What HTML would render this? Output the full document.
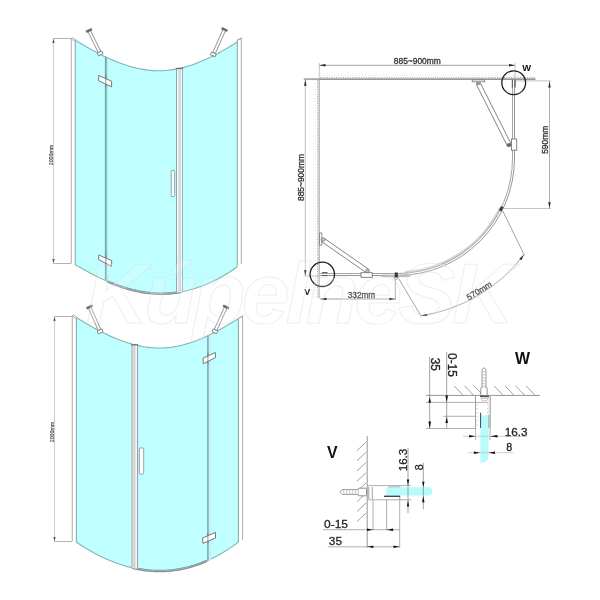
<!DOCTYPE html>
<html><head><meta charset="utf-8"><style>
html,body{margin:0;padding:0;background:#fff;width:600px;height:600px;overflow:hidden;font-family:"Liberation Sans",sans-serif;}
</style></head><body>
<svg width="600" height="600" viewBox="0 0 600 600" style="position:absolute;left:0;top:0;will-change:transform">
<rect width="600" height="600" fill="#fff"/>
<path d="M75.50,40.32 L77.00,41.24 L78.50,42.15 L80.00,43.05 L81.50,43.95 L83.00,44.83 L84.50,45.71 L86.00,46.58 L87.50,47.43 L89.00,48.28 L90.50,49.12 L92.00,49.95 L93.50,50.76 L95.00,51.57 L96.50,52.36 L98.00,53.15 L99.50,53.91 L101.00,54.67 L102.50,55.42 L104.00,56.15 L105.50,56.86 L107.00,57.57 L108.50,58.26 L110.00,58.93 L111.50,59.59 L113.00,60.24 L114.50,60.86 L116.00,61.48 L117.50,62.07 L119.00,62.65 L120.50,63.22 L122.00,63.76 L123.50,64.29 L125.00,64.80 L126.50,65.29 L128.00,65.76 L129.50,66.22 L131.00,66.65 L132.50,67.06 L134.00,67.46 L135.50,67.83 L137.00,68.19 L138.50,68.52 L140.00,68.83 L141.50,69.12 L143.00,69.39 L144.50,69.63 L146.00,69.85 L147.50,70.05 L149.00,70.23 L150.50,70.38 L152.00,70.50 L153.50,70.61 L155.00,70.69 L156.50,70.74 L158.00,70.77 L159.50,70.77 L161.00,70.74 L162.50,70.69 L164.00,70.62 L165.50,70.51 L167.00,70.39 L168.50,70.23 L170.00,70.06 L171.50,69.86 L173.00,69.63 L174.50,69.38 L176.00,69.11 L177.50,68.82 L179.00,68.50 L180.50,68.16 L182.00,67.80 L183.50,67.42 L185.00,67.01 L186.50,66.59 L188.00,66.14 L189.50,65.67 L191.00,65.19 L192.50,64.68 L194.00,64.15 L195.50,63.61 L197.00,63.04 L198.50,62.46 L200.00,61.86 L201.50,61.24 L203.00,60.60 L204.50,59.95 L206.00,59.28 L207.50,58.59 L209.00,57.88 L210.50,57.16 L212.00,56.43 L213.50,55.67 L215.00,54.91 L216.50,54.13 L218.00,53.33 L219.50,52.52 L221.00,51.69 L222.50,50.86 L224.00,50.00 L225.50,49.14 L227.00,48.26 L228.50,47.37 L230.00,46.47 L231.50,45.56 L233.00,44.63 L234.50,43.70 L236.00,42.75 L237.50,41.79 L237.50,266.67 L236.00,267.73 L234.50,268.77 L233.00,269.80 L231.50,270.79 L230.00,271.77 L228.50,272.73 L227.00,273.66 L225.50,274.57 L224.00,275.47 L222.50,276.34 L221.00,277.18 L219.50,278.01 L218.00,278.81 L216.50,279.60 L215.00,280.36 L213.50,281.10 L212.00,281.82 L210.50,282.52 L209.00,283.19 L207.50,283.85 L206.00,284.48 L204.50,285.09 L203.00,285.68 L201.50,286.25 L200.00,286.80 L198.50,287.33 L197.00,287.84 L195.50,288.32 L194.00,288.79 L192.50,289.23 L191.00,289.65 L189.50,290.05 L188.00,290.43 L186.50,290.79 L185.00,291.13 L183.50,291.45 L182.00,291.74 L180.50,292.02 L179.00,292.27 L177.50,292.50 L176.00,292.72 L174.50,292.91 L173.00,293.08 L171.50,293.23 L170.00,293.36 L168.50,293.47 L167.00,293.56 L165.50,293.63 L164.00,293.67 L162.50,293.70 L161.00,293.71 L159.50,293.69 L158.00,293.66 L156.50,293.60 L155.00,293.53 L153.50,293.43 L152.00,293.32 L150.50,293.18 L149.00,293.03 L147.50,292.85 L146.00,292.66 L144.50,292.44 L143.00,292.21 L141.50,291.96 L140.00,291.69 L138.50,291.40 L137.00,291.09 L135.50,290.76 L134.00,290.42 L132.50,290.05 L131.00,289.67 L129.50,289.27 L128.00,288.85 L126.50,288.42 L125.00,287.96 L123.50,287.49 L122.00,287.00 L120.50,286.50 L119.00,285.97 L117.50,285.43 L116.00,284.88 L114.50,284.30 L113.00,283.71 L111.50,283.11 L110.00,282.49 L108.50,281.85 L107.00,281.20 L105.50,280.54 L104.00,279.86 L102.50,279.16 L101.00,278.46 L99.50,277.74 L98.00,277.01 L96.50,276.26 L95.00,275.51 L93.50,274.74 L92.00,273.96 L90.50,273.17 L89.00,272.37 L87.50,271.55 L86.00,270.73 L84.50,269.90 L83.00,269.06 L81.50,268.21 L80.00,267.35 L78.50,266.48 L77.00,265.60 L75.50,264.71 Z" fill="#bfffff" stroke="none"/>
<path d="M75.50,40.32 L77.00,41.24 L78.50,42.15 L80.00,43.05 L81.50,43.95 L83.00,44.83 L84.50,45.71 L86.00,46.58 L87.50,47.43 L89.00,48.28 L90.50,49.12 L92.00,49.95 L93.50,50.76 L95.00,51.57 L96.50,52.36 L98.00,53.15 L99.50,53.91 L101.00,54.67 L102.50,55.42 L104.00,56.15 L105.50,56.86 L107.00,57.57 L108.50,58.26 L110.00,58.93 L111.50,59.59 L113.00,60.24 L114.50,60.86 L116.00,61.48 L117.50,62.07 L119.00,62.65 L120.50,63.22 L122.00,63.76 L123.50,64.29 L125.00,64.80 L126.50,65.29 L128.00,65.76 L129.50,66.22 L131.00,66.65 L132.50,67.06 L134.00,67.46 L135.50,67.83 L137.00,68.19 L138.50,68.52 L140.00,68.83 L141.50,69.12 L143.00,69.39 L144.50,69.63 L146.00,69.85 L147.50,70.05 L149.00,70.23 L150.50,70.38 L152.00,70.50 L153.50,70.61 L155.00,70.69 L156.50,70.74 L158.00,70.77 L159.50,70.77 L161.00,70.74 L162.50,70.69 L164.00,70.62 L165.50,70.51 L167.00,70.39 L168.50,70.23 L170.00,70.06 L171.50,69.86 L173.00,69.63 L174.50,69.38 L176.00,69.11 L177.50,68.82 L179.00,68.50 L180.50,68.16 L182.00,67.80 L183.50,67.42 L185.00,67.01 L186.50,66.59 L188.00,66.14 L189.50,65.67 L191.00,65.19 L192.50,64.68 L194.00,64.15 L195.50,63.61 L197.00,63.04 L198.50,62.46 L200.00,61.86 L201.50,61.24 L203.00,60.60 L204.50,59.95 L206.00,59.28 L207.50,58.59 L209.00,57.88 L210.50,57.16 L212.00,56.43 L213.50,55.67 L215.00,54.91 L216.50,54.13 L218.00,53.33 L219.50,52.52 L221.00,51.69 L222.50,50.86 L224.00,50.00 L225.50,49.14 L227.00,48.26 L228.50,47.37 L230.00,46.47 L231.50,45.56 L233.00,44.63 L234.50,43.70 L236.00,42.75 L237.50,41.79" fill="none" stroke="#86b2b2" stroke-width="1.1"/>
<path d="M75.50,264.71 L77.00,265.60 L78.50,266.48 L80.00,267.35 L81.50,268.21 L83.00,269.06 L84.50,269.90 L86.00,270.73 L87.50,271.55 L89.00,272.37 L90.50,273.17 L92.00,273.96 L93.50,274.74 L95.00,275.51 L96.50,276.26 L98.00,277.01 L99.50,277.74 L101.00,278.46 L102.50,279.16 L104.00,279.86 L105.50,280.54 L107.00,281.20 L108.50,281.85 L110.00,282.49 L111.50,283.11 L113.00,283.71 L114.50,284.30 L116.00,284.88 L117.50,285.43 L119.00,285.97 L120.50,286.50 L122.00,287.00 L123.50,287.49 L125.00,287.96 L126.50,288.42 L128.00,288.85 L129.50,289.27 L131.00,289.67 L132.50,290.05 L134.00,290.42 L135.50,290.76 L137.00,291.09 L138.50,291.40 L140.00,291.69 L141.50,291.96 L143.00,292.21 L144.50,292.44 L146.00,292.66 L147.50,292.85 L149.00,293.03 L150.50,293.18 L152.00,293.32 L153.50,293.43 L155.00,293.53 L156.50,293.60 L158.00,293.66 L159.50,293.69 L161.00,293.71 L162.50,293.70 L164.00,293.67 L165.50,293.63 L167.00,293.56 L168.50,293.47 L170.00,293.36 L171.50,293.23 L173.00,293.08 L174.50,292.91 L176.00,292.72 L177.50,292.50 L179.00,292.27 L180.50,292.02 L182.00,291.74 L183.50,291.45 L185.00,291.13 L186.50,290.79 L188.00,290.43 L189.50,290.05 L191.00,289.65 L192.50,289.23 L194.00,288.79 L195.50,288.32 L197.00,287.84 L198.50,287.33 L200.00,286.80 L201.50,286.25 L203.00,285.68 L204.50,285.09 L206.00,284.48 L207.50,283.85 L209.00,283.19 L210.50,282.52 L212.00,281.82 L213.50,281.10 L215.00,280.36 L216.50,279.60 L218.00,278.81 L219.50,278.01 L221.00,277.18 L222.50,276.34 L224.00,275.47 L225.50,274.57 L227.00,273.66 L228.50,272.73 L230.00,271.77 L231.50,270.79 L233.00,269.80 L234.50,268.77 L236.00,267.73 L237.50,266.67" fill="none" stroke="#86b2b2" stroke-width="1.1"/>
<path d="M107.00,281.20 L108.50,281.85 L110.00,282.49 L111.50,283.11 L113.00,283.71 L114.50,284.30 L116.00,284.88 L117.50,285.43 L119.00,285.97 L120.50,286.50 L122.00,287.00 L123.50,287.49 L125.00,287.96 L126.50,288.42 L128.00,288.85 L129.50,289.27 L131.00,289.67 L132.50,290.05 L134.00,290.42 L135.50,290.76 L137.00,291.09 L138.50,291.40 L140.00,291.69 L141.50,291.96 L143.00,292.21 L144.50,292.44 L146.00,292.66 L147.50,292.85 L149.00,293.03 L150.50,293.18 L152.00,293.32 L153.50,293.43 L155.00,293.53 L156.50,293.60 L158.00,293.66 L159.50,293.69 L161.00,293.71 L162.50,293.70 L164.00,293.67 L165.50,293.63 L167.00,293.56 L168.50,293.47 L170.00,293.36 L171.50,293.23 L173.00,293.08 L174.50,292.91 L176.00,292.72 L177.50,292.50 L179.00,292.27 L180.50,292.02 L182.00,291.74" fill="none" stroke="#7d8a90" stroke-width="2.4"/>
<path d="M107.00,281.00 L108.50,281.65 L110.00,282.29 L111.50,282.91 L113.00,283.51 L114.50,284.10 L116.00,284.68 L117.50,285.23 L119.00,285.77 L120.50,286.30 L122.00,286.80 L123.50,287.29 L125.00,287.76 L126.50,288.22 L128.00,288.65 L129.50,289.07 L131.00,289.47 L132.50,289.85 L134.00,290.22 L135.50,290.56 L137.00,290.89 L138.50,291.20 L140.00,291.49 L141.50,291.76 L143.00,292.01 L144.50,292.24 L146.00,292.46 L147.50,292.65 L149.00,292.83 L150.50,292.98 L152.00,293.12 L153.50,293.23 L155.00,293.33 L156.50,293.40 L158.00,293.46 L159.50,293.49 L161.00,293.51 L162.50,293.50 L164.00,293.47 L165.50,293.43 L167.00,293.36 L168.50,293.27 L170.00,293.16 L171.50,293.03 L173.00,292.88 L174.50,292.71 L176.00,292.52 L177.50,292.30 L179.00,292.07 L180.50,291.82 L182.00,291.54" fill="none" stroke="#b9c4c8" stroke-width="0.7"/>
<path d="M71.3,38.8 L75.3,40.3 L75.3,265.3 L71.3,263.2 Z" fill="#fff" stroke="none"/>
<path d="M71.0,38.8 L72.5,37.8 L76.1,39.8 L74.7,40.9 Z" fill="#fff" stroke="#999" stroke-width="0.8"/>
<line x1="71.3" y1="38.8" x2="71.3" y2="263.2" stroke="#b6b3b0" stroke-width="1.1"/>
<line x1="75.3" y1="40.3" x2="75.3" y2="265.3" stroke="#8fb3b3" stroke-width="1.2"/>
<path d="M237.3,40.3 L241.3,38.5 L241.3,264 L237.3,266 Z" fill="#fff" stroke="none"/>
<path d="M237.0,40.3 L238.5,39.3 L242.10000000000002,38.0 L240.70000000000002,39.1 Z" fill="#fff" stroke="#999" stroke-width="0.8"/>
<line x1="241.3" y1="38.5" x2="241.3" y2="264" stroke="#b6b3b0" stroke-width="1.1"/>
<line x1="237.3" y1="40.3" x2="237.3" y2="266" stroke="#8fb3b3" stroke-width="1.2"/>
<rect x="176.1" y="68.39" width="6.800000000000011" height="223.80" fill="#d9d8e0"/>
<rect x="176.9" y="68.39" width="1.4" height="223.80" fill="#eef8f4"/>
<rect x="181.0" y="68.39" width="1.2" height="223.80" fill="#f0f8ff"/>
<line x1="176.5" y1="68.39" x2="176.5" y2="292.19" stroke="#88aaa8" stroke-width="1"/>
<line x1="182.5" y1="68.39" x2="182.5" y2="292.19" stroke="#92b4b4" stroke-width="1"/>
<rect x="175.79999999999998" y="67.79" width="7.400000000000011" height="1.3" fill="#707070"/>
<line x1="105.8" y1="57.01" x2="105.8" y2="280.67" stroke="#70a2a2" stroke-width="1.8"/>
<line x1="107.1" y1="57.01" x2="107.1" y2="280.67" stroke="#a8d4d4" stroke-width="0.8"/>
<rect x="171.2" y="170.5" width="3.5" height="26.0" rx="0.8" fill="#fff" stroke="#8a9a9a" stroke-width="0.9"/>
<path d="M98.8,75.5 L111.7,81.3 L111.5,86.8 L98.6,80.8 Z" fill="#fff" stroke="#6a6a6a" stroke-width="0.9"/>
<line x1="105.8" y1="75.5" x2="105.8" y2="86.8" stroke="#777" stroke-width="0.8"/>
<path d="M98.8,255 L111.7,260.6 L111.5,266.3 L98.6,259.6 Z" fill="#fff" stroke="#6a6a6a" stroke-width="0.9"/>
<line x1="105.8" y1="255" x2="105.8" y2="266.3" stroke="#777" stroke-width="0.8"/>
<path d="M87.74,31.11 L98.24,52.61 L100.76,51.39 L90.26,29.89 Z" fill="#fff" stroke="#7a7a7a" stroke-width="0.8"/>
<line x1="86.12" y1="31.90" x2="91.88" y2="29.10" stroke="#6a6a6a" stroke-width="2.4"/>
<path d="M97.20,53.12 L98.52,55.82 L103.12,53.57 L101.80,50.88 Z" fill="#fff" stroke="#6a6a6a" stroke-width="0.8"/>
<path d="M223.22,28.93 L212.72,52.43 L215.28,53.57 L225.78,30.07 Z" fill="#fff" stroke="#7a7a7a" stroke-width="0.8"/>
<line x1="221.58" y1="28.19" x2="227.42" y2="30.81" stroke="#6a6a6a" stroke-width="2.4"/>
<path d="M211.66,51.96 L210.44,54.69 L215.11,56.78 L216.34,54.04 Z" fill="#fff" stroke="#6a6a6a" stroke-width="0.8"/>
<line x1="53.5" y1="38.5" x2="53.5" y2="263.5" stroke="#d2d2d2" stroke-width="1.2" />
<line x1="53.5" y1="38.5" x2="71.3" y2="38.5" stroke="#b4b4b4" stroke-width="1" />
<line x1="53.5" y1="263.5" x2="71.3" y2="263.5" stroke="#b4b4b4" stroke-width="1" />
<path d="M53.50,38.50 L54.60,43.00 L52.40,43.00 Z" fill="#555"/>
<path d="M53.50,263.50 L52.40,259.00 L54.60,259.00 Z" fill="#555"/>
<text x="0" y="0" transform="translate(53.1,155) rotate(-90)" font-size="5" text-anchor="middle" fill="#4a4a4a" stroke="#4a4a4a" stroke-width="0.15" textLength="20.5" lengthAdjust="spacingAndGlyphs" font-family="Liberation Sans, sans-serif">2000mm</text>
<path d="M76.50,317.64 L78.00,318.57 L79.50,319.49 L81.00,320.41 L82.50,321.32 L84.00,322.21 L85.50,323.10 L87.00,323.98 L88.50,324.84 L90.00,325.70 L91.50,326.55 L93.00,327.38 L94.50,328.20 L96.00,329.01 L97.50,329.81 L99.00,330.59 L100.50,331.37 L102.00,332.13 L103.50,332.87 L105.00,333.60 L106.50,334.32 L108.00,335.03 L109.50,335.71 L111.00,336.39 L112.50,337.05 L114.00,337.69 L115.50,338.31 L117.00,338.92 L118.50,339.52 L120.00,340.09 L121.50,340.65 L123.00,341.19 L124.50,341.72 L126.00,342.22 L127.50,342.71 L129.00,343.17 L130.50,343.62 L132.00,344.05 L133.50,344.46 L135.00,344.85 L136.50,345.21 L138.00,345.56 L139.50,345.89 L141.00,346.19 L142.50,346.47 L144.00,346.74 L145.50,346.97 L147.00,347.19 L148.50,347.38 L150.00,347.55 L151.50,347.70 L153.00,347.82 L154.50,347.91 L156.00,347.99 L157.50,348.03 L159.00,348.06 L160.50,348.05 L162.00,348.02 L163.50,347.97 L165.00,347.88 L166.50,347.78 L168.00,347.64 L169.50,347.48 L171.00,347.29 L172.50,347.08 L174.00,346.84 L175.50,346.58 L177.00,346.29 L178.50,345.98 L180.00,345.65 L181.50,345.30 L183.00,344.92 L184.50,344.52 L186.00,344.09 L187.50,343.65 L189.00,343.18 L190.50,342.70 L192.00,342.19 L193.50,341.67 L195.00,341.12 L196.50,340.56 L198.00,339.97 L199.50,339.37 L201.00,338.75 L202.50,338.11 L204.00,337.46 L205.50,336.79 L207.00,336.10 L208.50,335.40 L210.00,334.68 L211.50,333.95 L213.00,333.20 L214.50,332.43 L216.00,331.66 L217.50,330.87 L219.00,330.06 L220.50,329.25 L222.00,328.42 L223.50,327.57 L225.00,326.72 L226.50,325.86 L228.00,324.98 L229.50,324.09 L231.00,323.20 L232.50,322.29 L234.00,321.38 L235.50,320.45 L237.00,319.52 L238.00,318.89 L238.50,541.97 L237.00,543.10 L235.50,544.20 L234.00,545.28 L232.50,546.33 L231.00,547.36 L229.50,548.37 L228.00,549.36 L226.50,550.32 L225.00,551.26 L223.50,552.18 L222.00,553.07 L220.50,553.95 L219.00,554.80 L217.50,555.62 L216.00,556.43 L214.50,557.21 L213.00,557.97 L211.50,558.71 L210.00,559.42 L208.50,560.12 L207.00,560.79 L205.50,561.44 L204.00,562.07 L202.50,562.68 L201.00,563.26 L199.50,563.82 L198.00,564.36 L196.50,564.88 L195.00,565.38 L193.50,565.86 L192.00,566.31 L190.50,566.75 L189.00,567.16 L187.50,567.55 L186.00,567.92 L184.50,568.27 L183.00,568.60 L181.50,568.91 L180.00,569.20 L178.50,569.46 L177.00,569.71 L175.50,569.93 L174.00,570.14 L172.50,570.32 L171.00,570.48 L169.50,570.63 L168.00,570.75 L166.50,570.85 L165.00,570.93 L163.50,571.00 L162.00,571.04 L160.50,571.06 L159.00,571.06 L157.50,571.04 L156.00,571.01 L154.50,570.95 L153.00,570.87 L151.50,570.77 L150.00,570.66 L148.50,570.52 L147.00,570.37 L145.50,570.19 L144.00,570.00 L142.50,569.78 L141.00,569.55 L139.50,569.30 L138.00,569.03 L136.50,568.74 L135.00,568.43 L133.50,568.10 L132.00,567.76 L130.50,567.39 L129.00,567.01 L127.50,566.61 L126.00,566.19 L124.50,565.75 L123.00,565.29 L121.50,564.81 L120.00,564.32 L118.50,563.81 L117.00,563.28 L115.50,562.73 L114.00,562.16 L112.50,561.58 L111.00,560.98 L109.50,560.36 L108.00,559.72 L106.50,559.06 L105.00,558.39 L103.50,557.70 L102.00,556.99 L100.50,556.26 L99.00,555.52 L97.50,554.76 L96.00,553.98 L94.50,553.19 L93.00,552.37 L91.50,551.55 L90.00,550.70 L88.50,549.84 L87.00,548.96 L85.50,548.06 L84.00,547.15 L82.50,546.22 L81.00,545.27 L79.50,544.31 L78.00,543.33 L76.50,542.33 Z" fill="#bfffff" stroke="none"/>
<path d="M76.50,317.64 L78.00,318.57 L79.50,319.49 L81.00,320.41 L82.50,321.32 L84.00,322.21 L85.50,323.10 L87.00,323.98 L88.50,324.84 L90.00,325.70 L91.50,326.55 L93.00,327.38 L94.50,328.20 L96.00,329.01 L97.50,329.81 L99.00,330.59 L100.50,331.37 L102.00,332.13 L103.50,332.87 L105.00,333.60 L106.50,334.32 L108.00,335.03 L109.50,335.71 L111.00,336.39 L112.50,337.05 L114.00,337.69 L115.50,338.31 L117.00,338.92 L118.50,339.52 L120.00,340.09 L121.50,340.65 L123.00,341.19 L124.50,341.72 L126.00,342.22 L127.50,342.71 L129.00,343.17 L130.50,343.62 L132.00,344.05 L133.50,344.46 L135.00,344.85 L136.50,345.21 L138.00,345.56 L139.50,345.89 L141.00,346.19 L142.50,346.47 L144.00,346.74 L145.50,346.97 L147.00,347.19 L148.50,347.38 L150.00,347.55 L151.50,347.70 L153.00,347.82 L154.50,347.91 L156.00,347.99 L157.50,348.03 L159.00,348.06 L160.50,348.05 L162.00,348.02 L163.50,347.97 L165.00,347.88 L166.50,347.78 L168.00,347.64 L169.50,347.48 L171.00,347.29 L172.50,347.08 L174.00,346.84 L175.50,346.58 L177.00,346.29 L178.50,345.98 L180.00,345.65 L181.50,345.30 L183.00,344.92 L184.50,344.52 L186.00,344.09 L187.50,343.65 L189.00,343.18 L190.50,342.70 L192.00,342.19 L193.50,341.67 L195.00,341.12 L196.50,340.56 L198.00,339.97 L199.50,339.37 L201.00,338.75 L202.50,338.11 L204.00,337.46 L205.50,336.79 L207.00,336.10 L208.50,335.40 L210.00,334.68 L211.50,333.95 L213.00,333.20 L214.50,332.43 L216.00,331.66 L217.50,330.87 L219.00,330.06 L220.50,329.25 L222.00,328.42 L223.50,327.57 L225.00,326.72 L226.50,325.86 L228.00,324.98 L229.50,324.09 L231.00,323.20 L232.50,322.29 L234.00,321.38 L235.50,320.45 L237.00,319.52 L238.00,318.89" fill="none" stroke="#86b2b2" stroke-width="1.1"/>
<path d="M76.50,542.33 L78.00,543.33 L79.50,544.31 L81.00,545.27 L82.50,546.22 L84.00,547.15 L85.50,548.06 L87.00,548.96 L88.50,549.84 L90.00,550.70 L91.50,551.55 L93.00,552.37 L94.50,553.19 L96.00,553.98 L97.50,554.76 L99.00,555.52 L100.50,556.26 L102.00,556.99 L103.50,557.70 L105.00,558.39 L106.50,559.06 L108.00,559.72 L109.50,560.36 L111.00,560.98 L112.50,561.58 L114.00,562.16 L115.50,562.73 L117.00,563.28 L118.50,563.81 L120.00,564.32 L121.50,564.81 L123.00,565.29 L124.50,565.75 L126.00,566.19 L127.50,566.61 L129.00,567.01 L130.50,567.39 L132.00,567.76 L133.50,568.10 L135.00,568.43 L136.50,568.74 L138.00,569.03 L139.50,569.30 L141.00,569.55 L142.50,569.78 L144.00,570.00 L145.50,570.19 L147.00,570.37 L148.50,570.52 L150.00,570.66 L151.50,570.77 L153.00,570.87 L154.50,570.95 L156.00,571.01 L157.50,571.04 L159.00,571.06 L160.50,571.06 L162.00,571.04 L163.50,571.00 L165.00,570.93 L166.50,570.85 L168.00,570.75 L169.50,570.63 L171.00,570.48 L172.50,570.32 L174.00,570.14 L175.50,569.93 L177.00,569.71 L178.50,569.46 L180.00,569.20 L181.50,568.91 L183.00,568.60 L184.50,568.27 L186.00,567.92 L187.50,567.55 L189.00,567.16 L190.50,566.75 L192.00,566.31 L193.50,565.86 L195.00,565.38 L196.50,564.88 L198.00,564.36 L199.50,563.82 L201.00,563.26 L202.50,562.68 L204.00,562.07 L205.50,561.44 L207.00,560.79 L208.50,560.12 L210.00,559.42 L211.50,558.71 L213.00,557.97 L214.50,557.21 L216.00,556.43 L217.50,555.62 L219.00,554.80 L220.50,553.95 L222.00,553.07 L223.50,552.18 L225.00,551.26 L226.50,550.32 L228.00,549.36 L229.50,548.37 L231.00,547.36 L232.50,546.33 L234.00,545.28 L235.50,544.20 L237.00,543.10 L238.50,541.97" fill="none" stroke="#86b2b2" stroke-width="1.1"/>
<path d="M132.00,567.76 L133.50,568.10 L135.00,568.43 L136.50,568.74 L138.00,569.03 L139.50,569.30 L141.00,569.55 L142.50,569.78 L144.00,570.00 L145.50,570.19 L147.00,570.37 L148.50,570.52 L150.00,570.66 L151.50,570.77 L153.00,570.87 L154.50,570.95 L156.00,571.01 L157.50,571.04 L159.00,571.06 L160.50,571.06 L162.00,571.04 L163.50,571.00 L165.00,570.93 L166.50,570.85 L168.00,570.75 L169.50,570.63 L171.00,570.48 L172.50,570.32 L174.00,570.14 L175.50,569.93 L177.00,569.71 L178.50,569.46 L180.00,569.20 L181.50,568.91 L183.00,568.60 L184.50,568.27 L186.00,567.92 L187.50,567.55 L189.00,567.16 L190.50,566.75 L192.00,566.31 L193.50,565.86 L195.00,565.38 L196.50,564.88 L198.00,564.36 L199.50,563.82 L201.00,563.26 L202.50,562.68 L204.00,562.07 L205.50,561.44 L207.00,560.79" fill="none" stroke="#7d8a90" stroke-width="2.4"/>
<path d="M132.00,567.56 L133.50,567.90 L135.00,568.23 L136.50,568.54 L138.00,568.83 L139.50,569.10 L141.00,569.35 L142.50,569.58 L144.00,569.80 L145.50,569.99 L147.00,570.17 L148.50,570.32 L150.00,570.46 L151.50,570.57 L153.00,570.67 L154.50,570.75 L156.00,570.81 L157.50,570.84 L159.00,570.86 L160.50,570.86 L162.00,570.84 L163.50,570.80 L165.00,570.73 L166.50,570.65 L168.00,570.55 L169.50,570.43 L171.00,570.28 L172.50,570.12 L174.00,569.94 L175.50,569.73 L177.00,569.51 L178.50,569.26 L180.00,569.00 L181.50,568.71 L183.00,568.40 L184.50,568.07 L186.00,567.72 L187.50,567.35 L189.00,566.96 L190.50,566.55 L192.00,566.11 L193.50,565.66 L195.00,565.18 L196.50,564.68 L198.00,564.16 L199.50,563.62 L201.00,563.06 L202.50,562.48 L204.00,561.87 L205.50,561.24 L207.00,560.59" fill="none" stroke="#b9c4c8" stroke-width="0.7"/>
<path d="M72.3,315.8 L76.4,318 L76.4,542.8 L72.3,541 Z" fill="#fff" stroke="none"/>
<path d="M72.0,315.8 L73.5,314.8 L77.2,317.5 L75.80000000000001,318.6 Z" fill="#fff" stroke="#999" stroke-width="0.8"/>
<line x1="72.3" y1="315.8" x2="72.3" y2="541" stroke="#b6b3b0" stroke-width="1.1"/>
<line x1="76.4" y1="318" x2="76.4" y2="542.8" stroke="#8fb3b3" stroke-width="1.2"/>
<path d="M238.4,318.5 L242.5,316.3 L242.5,540.3 L238.4,542 Z" fill="#fff" stroke="none"/>
<path d="M238.1,318.5 L239.6,317.5 L243.3,315.8 L241.9,316.90000000000003 Z" fill="#fff" stroke="#999" stroke-width="0.8"/>
<line x1="242.5" y1="316.3" x2="242.5" y2="540.3" stroke="#b6b3b0" stroke-width="1.1"/>
<line x1="238.4" y1="318.5" x2="238.4" y2="542" stroke="#8fb3b3" stroke-width="1.2"/>
<rect x="131.4" y="344.76" width="6.5" height="223.60" fill="#d6d6d2"/>
<rect x="135.6" y="344.76" width="1.5" height="223.60" fill="#fcf8ff"/>
<line x1="131.8" y1="344.76" x2="131.8" y2="568.36" stroke="#a6c6c0" stroke-width="1"/>
<line x1="137.5" y1="344.76" x2="137.5" y2="568.36" stroke="#96a0ae" stroke-width="1.1"/>
<rect x="131.1" y="344.16" width="7.1" height="1.3" fill="#707070"/>
<line x1="209.9" y1="335.68" x2="209.9" y2="560.39" stroke="#c4f2f4" stroke-width="2.2"/>
<line x1="207.9" y1="335.68" x2="207.9" y2="560.39" stroke="#86b8bb" stroke-width="1.9"/>
<rect x="139.3" y="448" width="4.399999999999977" height="26" rx="0.8" fill="#fff" stroke="#8a9a9a" stroke-width="0.9"/>
<path d="M203,358.3 L215.3,352.5 L215.5,357.5 L203.3,363.8 Z" fill="#fff" stroke="#6a6a6a" stroke-width="0.9"/>
<line x1="207.9" y1="352.5" x2="207.9" y2="363.8" stroke="#777" stroke-width="0.8"/>
<path d="M202.5,538 L215.5,532.4 L215.5,538 L203,543.4 Z" fill="#fff" stroke="#6a6a6a" stroke-width="0.9"/>
<line x1="207.9" y1="532.4" x2="207.9" y2="543.4" stroke="#777" stroke-width="0.8"/>
<path d="M88.22,307.56 L98.22,330.56 L100.78,329.44 L90.78,306.44 Z" fill="#fff" stroke="#7a7a7a" stroke-width="0.8"/>
<line x1="86.57" y1="308.28" x2="92.43" y2="305.72" stroke="#6a6a6a" stroke-width="2.4"/>
<path d="M97.15,331.02 L98.35,333.77 L103.04,331.73 L101.85,328.98 Z" fill="#fff" stroke="#6a6a6a" stroke-width="0.8"/>
<path d="M224.73,306.42 L214.23,329.42 L216.77,330.58 L227.27,307.58 Z" fill="#fff" stroke="#7a7a7a" stroke-width="0.8"/>
<line x1="223.09" y1="305.67" x2="228.91" y2="308.33" stroke="#6a6a6a" stroke-width="2.4"/>
<path d="M213.17,328.94 L211.93,331.67 L216.58,333.79 L217.83,331.06 Z" fill="#fff" stroke="#6a6a6a" stroke-width="0.8"/>
<line x1="54.5" y1="316.5" x2="54.5" y2="541.5" stroke="#d2d2d2" stroke-width="1.2" />
<line x1="54.5" y1="316.5" x2="72.3" y2="316.5" stroke="#b4b4b4" stroke-width="1" />
<line x1="54.5" y1="541.5" x2="72.3" y2="541.5" stroke="#b4b4b4" stroke-width="1" />
<path d="M54.50,316.50 L55.60,321.00 L53.40,321.00 Z" fill="#555"/>
<path d="M54.50,541.50 L53.40,537.00 L55.60,537.00 Z" fill="#555"/>
<text x="0" y="0" transform="translate(54.1,432) rotate(-90)" font-size="5" text-anchor="middle" fill="#4a4a4a" stroke="#4a4a4a" stroke-width="0.15" textLength="20.5" lengthAdjust="spacingAndGlyphs" font-family="Liberation Sans, sans-serif">2000mm</text>
<line x1="320" y1="77.6" x2="535" y2="77.6" stroke="#a4a4a4" stroke-width="1" stroke-dasharray="1,1.3"/>
<line x1="320" y1="75.6" x2="535" y2="75.6" stroke="#e2e2e2" stroke-width="1" stroke-dasharray="1,2"/>
<line x1="320" y1="73.4" x2="535" y2="73.4" stroke="#efefef" stroke-width="1" stroke-dasharray="1,2.5"/>
<line x1="304" y1="79.2" x2="535.5" y2="79.2" stroke="#767676" stroke-width="1.2"/>
<line x1="317.5" y1="80" x2="317.5" y2="298" stroke="#aaaaaa" stroke-width="1" stroke-dasharray="1,1.3"/>
<line x1="315.4" y1="80" x2="315.4" y2="298" stroke="#e6e6e6" stroke-width="1" stroke-dasharray="1,2"/>
<line x1="313.2" y1="80" x2="313.2" y2="298" stroke="#f0f0f0" stroke-width="1" stroke-dasharray="1,2.5"/>
<line x1="319.1" y1="79.3" x2="319.1" y2="298.5" stroke="#9c9c9c" stroke-width="1.1"/>
<line x1="319.3" y1="63" x2="319.3" y2="79" stroke="#b5b5b5" stroke-width="0.8" />
<line x1="515" y1="63" x2="515" y2="80" stroke="#b5b5b5" stroke-width="0.8" />
<line x1="319.3" y1="65.3" x2="515" y2="65.3" stroke="#8c8c8c" stroke-width="0.8" />
<path d="M319.50,65.30 L325.50,64.10 L325.50,66.50 Z" fill="#222"/>
<path d="M515.00,65.30 L509.00,66.50 L509.00,64.10 Z" fill="#222"/>
<text x="393.8" y="63.8" font-size="8.4" text-anchor="start" font-weight="normal" fill="#2e2e2e" stroke="#2e2e2e" stroke-width="0.28" font-family="Liberation Sans, sans-serif" textLength="47" lengthAdjust="spacingAndGlyphs" >885~900mm</text>
<line x1="303.5" y1="79.3" x2="319" y2="79.3" stroke="#b5b5b5" stroke-width="0.8" />
<line x1="303.5" y1="276" x2="320" y2="276" stroke="#b5b5b5" stroke-width="0.8" />
<line x1="305.3" y1="79.5" x2="305.3" y2="276" stroke="#b0b0b0" stroke-width="0.8" />
<path d="M305.30,79.80 L306.50,85.80 L304.10,85.80 Z" fill="#222"/>
<path d="M305.30,276.00 L304.10,270.00 L306.50,270.00 Z" fill="#222"/>
<text x="304" y="177.5" font-size="8.4" text-anchor="middle" font-weight="normal" fill="#2e2e2e" stroke="#2e2e2e" stroke-width="0.28" font-family="Liberation Sans, sans-serif" transform="rotate(-90 304 177.5)" textLength="47" lengthAdjust="spacingAndGlyphs" >885~900mm</text>
<line x1="516" y1="80.9" x2="551" y2="80.9" stroke="#b5b5b5" stroke-width="0.8" />
<line x1="503" y1="208.5" x2="551" y2="208.5" stroke="#c4c4c4" stroke-width="1" />
<line x1="549.5" y1="81" x2="549.5" y2="208.5" stroke="#9a9a9a" stroke-width="0.8" />
<path d="M549.50,81.60 L550.70,87.60 L548.30,87.60 Z" fill="#222"/>
<path d="M549.50,208.30 L548.30,202.30 L550.70,202.30 Z" fill="#222"/>
<text x="547.6" y="139.8" font-size="8.4" text-anchor="middle" font-weight="normal" fill="#2e2e2e" stroke="#2e2e2e" stroke-width="0.28" font-family="Liberation Sans, sans-serif" transform="rotate(-90 547.6 139.8)" textLength="28" lengthAdjust="spacingAndGlyphs" >590mm</text>
<line x1="395.3" y1="278" x2="395.3" y2="300" stroke="#8c8c8c" stroke-width="0.8" />
<line x1="320" y1="299" x2="395.3" y2="299" stroke="#8c8c8c" stroke-width="0.8" />
<path d="M320.30,299.00 L326.30,297.80 L326.30,300.20 Z" fill="#222"/>
<path d="M395.30,299.00 L389.30,300.20 L389.30,297.80 Z" fill="#222"/>
<text x="361.5" y="297.6" font-size="8.4" text-anchor="middle" font-weight="normal" fill="#2e2e2e" stroke="#2e2e2e" stroke-width="0.28" font-family="Liberation Sans, sans-serif" textLength="27.5" lengthAdjust="spacingAndGlyphs" >332mm</text>
<path d="M500.00,207.63 A114.2,114.2 0 0 1 405.07,272.02" fill="none" stroke="#d4d4d4" stroke-width="2.2"/>
<path d="M514.50,80 L514.50,158.1 A117.4,117.4 0 0 1 397.1,275.50 L320,275.50" fill="none" stroke="#8a8a8a" stroke-width="0.9"/>
<path d="M512.50,80 L512.50,158.1 A115.4,115.4 0 0 1 397.1,273.50 L320,273.50" fill="none" stroke="#9a9a9a" stroke-width="0.9"/>
<rect x="382" y="275" width="28" height="1.8" fill="#c8c8c8" stroke="#999" stroke-width="0.5"/>
<rect x="394.8" y="272.5" width="3" height="5" fill="#333"/>
<path d="M393.8,277.5 L398.6,277.5 L396.2,280 Z" fill="#fff" stroke="#777" stroke-width="0.6"/>
<rect x="-1.3" y="-2.4" width="2.6" height="4.8" fill="#3a3a3a" transform="translate(501.2,208.8) rotate(27)"/>
<line x1="398.7" y1="278.7" x2="421.3" y2="316.5" stroke="#8c8c8c" stroke-width="0.8" />
<line x1="502.5" y1="210.5" x2="524.4" y2="255.2" stroke="#8c8c8c" stroke-width="0.8" />
<path d="M421.23,315.76 A159.5,159.5 0 0 0 523.94,254.80" fill="none" stroke="#8c8c8c" stroke-width="0.8"/>
<path d="M421.23,315.76 L426.98,313.67 L427.35,316.04 Z" fill="#222"/>
<path d="M523.94,254.80 L521.26,260.30 L519.35,258.85 Z" fill="#222"/>
<text x="480.66" y="293.14" font-size="8.4" text-anchor="middle" font-weight="normal" fill="#2e2e2e" stroke="#2e2e2e" stroke-width="0.28" font-family="Liberation Sans, sans-serif" transform="rotate(-31.75 480.66 293.14)" textLength="28" lengthAdjust="spacingAndGlyphs" >570mm</text>
<path d="M476.62,84.95 L507.62,146.45 L511.38,144.55 L480.38,83.05 Z" fill="#fff" stroke="#777" stroke-width="0.9"/>
<rect x="472.2" y="79.9" width="12.5" height="1.9" fill="#fff" stroke="#777" stroke-width="0.8"/>
<rect x="476" y="81.8" width="4.6" height="3.2" fill="#999"/>
<rect x="511.5" y="139" width="5.2" height="11.2" fill="#fff" stroke="#777" stroke-width="0.9"/>
<circle cx="509" cy="145" r="2.1" fill="#666"/>
<path d="M321.80,241.72 L366.30,272.72 L368.70,269.28 L324.20,238.28 Z" fill="#fff" stroke="#777" stroke-width="0.9"/>
<rect x="319.6" y="233" width="2.2" height="12" fill="#fff" stroke="#777" stroke-width="0.8"/>
<circle cx="323" cy="239.5" r="2" fill="#bbb" stroke="#777" stroke-width="0.6"/>
<circle cx="367.5" cy="271" r="2" fill="#bbb" stroke="#777" stroke-width="0.6"/>
<rect x="361" y="272.7" width="11.3" height="4.6" fill="#fff" stroke="#777" stroke-width="0.9"/>
<circle cx="513.7" cy="82.7" r="11.9" fill="none" stroke="#1e1e1e" stroke-width="1.3"/>
<circle cx="322.3" cy="274.3" r="12.2" fill="none" stroke="#1e1e1e" stroke-width="1.3"/>
<path d="M512.3,79.6 L512.3,87.5 M515.2,79.6 L515.2,87.5" stroke="#555" stroke-width="1"/>
<path d="M322,272.6 L327.5,272.6 M322,275.6 L327.5,275.6" stroke="#555" stroke-width="1"/>
<text x="522.2" y="70.8" font-size="8.6" text-anchor="start" font-weight="bold" fill="#111" font-family="Liberation Sans, sans-serif" textLength="8.8" lengthAdjust="spacingAndGlyphs" >W</text>
<text x="304.3" y="294.6" font-size="8.6" text-anchor="start" font-weight="bold" fill="#111" font-family="Liberation Sans, sans-serif" textLength="6" lengthAdjust="spacingAndGlyphs" >V</text>
<text x="515" y="364.3" font-size="16" text-anchor="start" font-weight="bold" fill="#111" font-family="Liberation Sans, sans-serif" textLength="15" lengthAdjust="spacingAndGlyphs" >W</text>
<line x1="426" y1="395.4" x2="540" y2="395.4" stroke="#8a8a8a" stroke-width="0.9" />
<line x1="454" y1="385.8" x2="463" y2="395.2" stroke="#8a8a8a" stroke-width="0.8" />
<line x1="464.5" y1="385.8" x2="473.5" y2="395.2" stroke="#8a8a8a" stroke-width="0.8" />
<line x1="474" y1="385.8" x2="483" y2="395.2" stroke="#8a8a8a" stroke-width="0.8" />
<line x1="494" y1="385.8" x2="503" y2="395.2" stroke="#8a8a8a" stroke-width="0.8" />
<line x1="505" y1="385.8" x2="514" y2="395.2" stroke="#8a8a8a" stroke-width="0.8" />
<line x1="515.5" y1="385.8" x2="524.5" y2="395.2" stroke="#8a8a8a" stroke-width="0.8" />
<line x1="526" y1="385.8" x2="535" y2="395.2" stroke="#8a8a8a" stroke-width="0.8" />
<rect x="480.8" y="387.5" width="6.4" height="8" rx="1" fill="#fff" stroke="#777" stroke-width="0.8"/>
<path d="M482,388 L482,370 L484,367.5 L486,370 L486,388" fill="#fff" stroke="#888" stroke-width="0.8"/>
<path d="M482,371 L486,372.5 M482,374 L486,375.5 M482,377 L486,378.5 M482,380 L486,381.5 M482,383 L486,384.5 M482,386 L486,387" stroke="#999" stroke-width="0.6"/>
<path d="M475.5,395.5 L475.5,428.5 M490.3,395.5 L490.3,428.5" stroke="#8a8a8a" stroke-width="0.8" fill="none"/>
<path d="M489.1,397 L489.1,428" stroke="#c0c0c0" stroke-width="0.6" fill="none"/>
<path d="M477.2,404 L477.2,427 M487.6,404 L487.6,414" stroke="#b0b0b0" stroke-width="0.6" stroke-dasharray="1.5,2.5" fill="none"/>
<rect x="480" y="395.6" width="9" height="1.6" fill="#555"/>
<path d="M481,398.5 L488,398.5 L487,400.5 L482,400.5 Z" fill="none" stroke="#aaa" stroke-width="0.6"/>
<path d="M480.4,415.3 L488.5,415.3 L488.5,456.5 Q488.3,462.5 481.5,462.8 L480.4,462.8 Z" fill="#b8fbfc"/>
<line x1="480.6" y1="412.7" x2="480.6" y2="428" stroke="#445" stroke-width="1"/>
<line x1="488.8" y1="415" x2="488.8" y2="428" stroke="#888" stroke-width="0.7"/>
<line x1="426" y1="402.4" x2="488" y2="402.4" stroke="#9a9a9a" stroke-width="0.8" />
<line x1="443.3" y1="416.3" x2="476" y2="416.3" stroke="#9a9a9a" stroke-width="0.8" />
<line x1="426" y1="428.5" x2="476" y2="428.5" stroke="#9a9a9a" stroke-width="0.8" />
<line x1="429.7" y1="357" x2="429.7" y2="429" stroke="#8a8a8a" stroke-width="0.8" />
<line x1="446.7" y1="352" x2="446.7" y2="429" stroke="#8a8a8a" stroke-width="0.8" />
<path d="M429.70,397.00 L431.00,402.70 L428.40,402.70 Z" fill="#111"/>
<path d="M429.70,428.60 L428.40,421.60 L431.00,421.60 Z" fill="#111"/>
<path d="M446.70,402.20 L445.40,395.50 L448.00,395.50 Z" fill="#111"/>
<path d="M446.70,416.80 L448.00,423.00 L445.40,423.00 Z" fill="#111"/>
<text x="431" y="357.7" font-size="12.2" text-anchor="start" font-weight="normal" fill="#222" stroke="#222" stroke-width="0.28" font-family="Liberation Sans, sans-serif" transform="rotate(90 431 357.7)" textLength="13.3" lengthAdjust="spacingAndGlyphs" >35</text>
<text x="447.6" y="353" font-size="12.2" text-anchor="start" font-weight="normal" fill="#222" stroke="#222" stroke-width="0.28" font-family="Liberation Sans, sans-serif" transform="rotate(90 447.6 353)" textLength="24" lengthAdjust="spacingAndGlyphs" >0-15</text>
<line x1="475.6" y1="428" x2="475.6" y2="440" stroke="#9a9a9a" stroke-width="0.8" />
<line x1="490" y1="428" x2="490" y2="440" stroke="#9a9a9a" stroke-width="0.8" />
<line x1="463" y1="436.3" x2="527" y2="436.3" stroke="#c4c4c4" stroke-width="0.8" />
<path d="M475.60,436.30 L469.10,437.50 L469.10,435.10 Z" fill="#111"/>
<path d="M490.00,436.30 L497.50,435.10 L497.50,437.50 Z" fill="#111"/>
<text x="504.8" y="435.7" font-size="11.6" text-anchor="start" font-weight="normal" fill="#222" stroke="#222" stroke-width="0.28" font-family="Liberation Sans, sans-serif" textLength="22.8" lengthAdjust="spacingAndGlyphs" >16.3</text>
<line x1="467.7" y1="452.7" x2="513.7" y2="452.7" stroke="#c4c4c4" stroke-width="0.8" />
<path d="M480.30,452.70 L473.80,453.90 L473.80,451.50 Z" fill="#111"/>
<path d="M488.50,452.70 L495.00,451.50 L495.00,453.90 Z" fill="#111"/>
<text x="506.3" y="451.3" font-size="11.6" text-anchor="start" font-weight="normal" fill="#222" stroke="#222" stroke-width="0.28" font-family="Liberation Sans, sans-serif" textLength="6" lengthAdjust="spacingAndGlyphs" >8</text>
<text x="327" y="458" font-size="16" text-anchor="start" font-weight="bold" fill="#111" font-family="Liberation Sans, sans-serif" textLength="10.6" lengthAdjust="spacingAndGlyphs" >V</text>
<line x1="367.2" y1="436" x2="367.2" y2="548" stroke="#8a8a8a" stroke-width="0.9" />
<line x1="357" y1="450.6" x2="366.2" y2="442.0" stroke="#8a8a8a" stroke-width="0.8" />
<line x1="357" y1="460.8" x2="366.2" y2="452.2" stroke="#8a8a8a" stroke-width="0.8" />
<line x1="357" y1="471" x2="366.2" y2="462.4" stroke="#8a8a8a" stroke-width="0.8" />
<line x1="357" y1="481.2" x2="366.2" y2="472.59999999999997" stroke="#8a8a8a" stroke-width="0.8" />
<line x1="357" y1="491.4" x2="366.2" y2="482.79999999999995" stroke="#8a8a8a" stroke-width="0.8" />
<line x1="357" y1="501.6" x2="366.2" y2="493.0" stroke="#8a8a8a" stroke-width="0.8" />
<line x1="357" y1="511.5" x2="366.2" y2="502.9" stroke="#8a8a8a" stroke-width="0.8" />
<line x1="357" y1="521.5" x2="366.2" y2="512.9" stroke="#8a8a8a" stroke-width="0.8" />
<rect x="358" y="488.2" width="8.5" height="7.6" rx="1" fill="#fff" stroke="#777" stroke-width="0.8"/>
<path d="M358,489.6 L342,489.6 L339.8,492 L342,494.4 L358,494.4" fill="#fff" stroke="#888" stroke-width="0.8"/>
<path d="M343,489.6 L344.5,494.4 M346,489.6 L347.5,494.4 M349,489.6 L350.5,494.4 M352,489.6 L353.5,494.4 M355,489.6 L356.5,494.4" stroke="#999" stroke-width="0.6"/>
<line x1="367.2" y1="485.6" x2="411" y2="485.6" stroke="#9a9a9a" stroke-width="0.8" />
<line x1="367.2" y1="499.8" x2="411" y2="499.8" stroke="#9a9a9a" stroke-width="0.8" />
<path d="M368.8,487 L368.8,499 M372.3,487 L372.3,499 M399.8,486 L399.8,500" stroke="#888" stroke-width="0.8"/>
<path d="M386.2,487.3 L429,487.3 Q432.2,487.3 432.2,491.4 Q432.2,495.5 429,495.5 L386.2,495.5 Z" fill="#b8fbfc"/>
<rect x="384" y="495.6" width="16" height="1.4" fill="#444"/>
<line x1="388" y1="486.8" x2="399" y2="486.8" stroke="#8a8a8a" stroke-width="0.6"/>
<line x1="408" y1="448" x2="408" y2="513" stroke="#8a8a8a" stroke-width="0.8" />
<path d="M408.00,485.40 L406.80,479.40 L409.20,479.40 Z" fill="#111"/>
<path d="M408.00,500.40 L409.20,506.40 L406.80,506.40 Z" fill="#111"/>
<line x1="423.3" y1="462.7" x2="423.3" y2="509.3" stroke="#8a8a8a" stroke-width="0.8" />
<path d="M423.30,487.30 L422.10,481.80 L424.50,481.80 Z" fill="#111"/>
<path d="M423.30,495.80 L424.50,502.30 L422.10,502.30 Z" fill="#111"/>
<text x="407.3" y="471.3" font-size="11.6" text-anchor="start" font-weight="normal" fill="#222" stroke="#222" stroke-width="0.28" font-family="Liberation Sans, sans-serif" transform="rotate(-90 407.3 471.3)" textLength="22.6" lengthAdjust="spacingAndGlyphs" >16.3</text>
<text x="422.7" y="470.2" font-size="11.6" text-anchor="start" font-weight="normal" fill="#222" stroke="#222" stroke-width="0.28" font-family="Liberation Sans, sans-serif" transform="rotate(-90 422.7 470.2)" textLength="6" lengthAdjust="spacingAndGlyphs" >8</text>
<line x1="373" y1="500" x2="373" y2="530.5" stroke="#9a9a9a" stroke-width="0.8" />
<line x1="386.6" y1="500" x2="386.6" y2="530.5" stroke="#9a9a9a" stroke-width="0.8" />
<line x1="399.7" y1="500" x2="399.7" y2="548" stroke="#9a9a9a" stroke-width="0.8" />
<line x1="323" y1="529.7" x2="399.7" y2="529.7" stroke="#9a9a9a" stroke-width="0.8" />
<path d="M373.00,529.70 L367.00,530.90 L367.00,528.50 Z" fill="#111"/>
<path d="M386.60,529.70 L393.10,528.50 L393.10,530.90 Z" fill="#111"/>
<line x1="327.7" y1="546.8" x2="399.7" y2="546.8" stroke="#9a9a9a" stroke-width="0.8" />
<path d="M367.40,546.80 L373.40,545.60 L373.40,548.00 Z" fill="#111"/>
<path d="M399.50,546.80 L393.50,548.00 L393.50,545.60 Z" fill="#111"/>
<text x="324" y="528.2" font-size="11.6" text-anchor="start" font-weight="normal" fill="#222" stroke="#222" stroke-width="0.28" font-family="Liberation Sans, sans-serif" textLength="24" lengthAdjust="spacingAndGlyphs" >0-15</text>
<text x="328.8" y="545.3" font-size="11.6" text-anchor="start" font-weight="normal" fill="#222" stroke="#222" stroke-width="0.28" font-family="Liberation Sans, sans-serif" textLength="13.2" lengthAdjust="spacingAndGlyphs" >35</text>
<text x="86" y="323" font-size="86" font-style="italic" font-weight="bold" textLength="428" lengthAdjust="spacing" fill="#ffffff" fill-opacity="0.18" stroke="#d6d8e4" stroke-opacity="0.4" stroke-width="1.1" font-family="Liberation Sans, sans-serif">KúpelneSK</text>
</svg>
</body></html>
